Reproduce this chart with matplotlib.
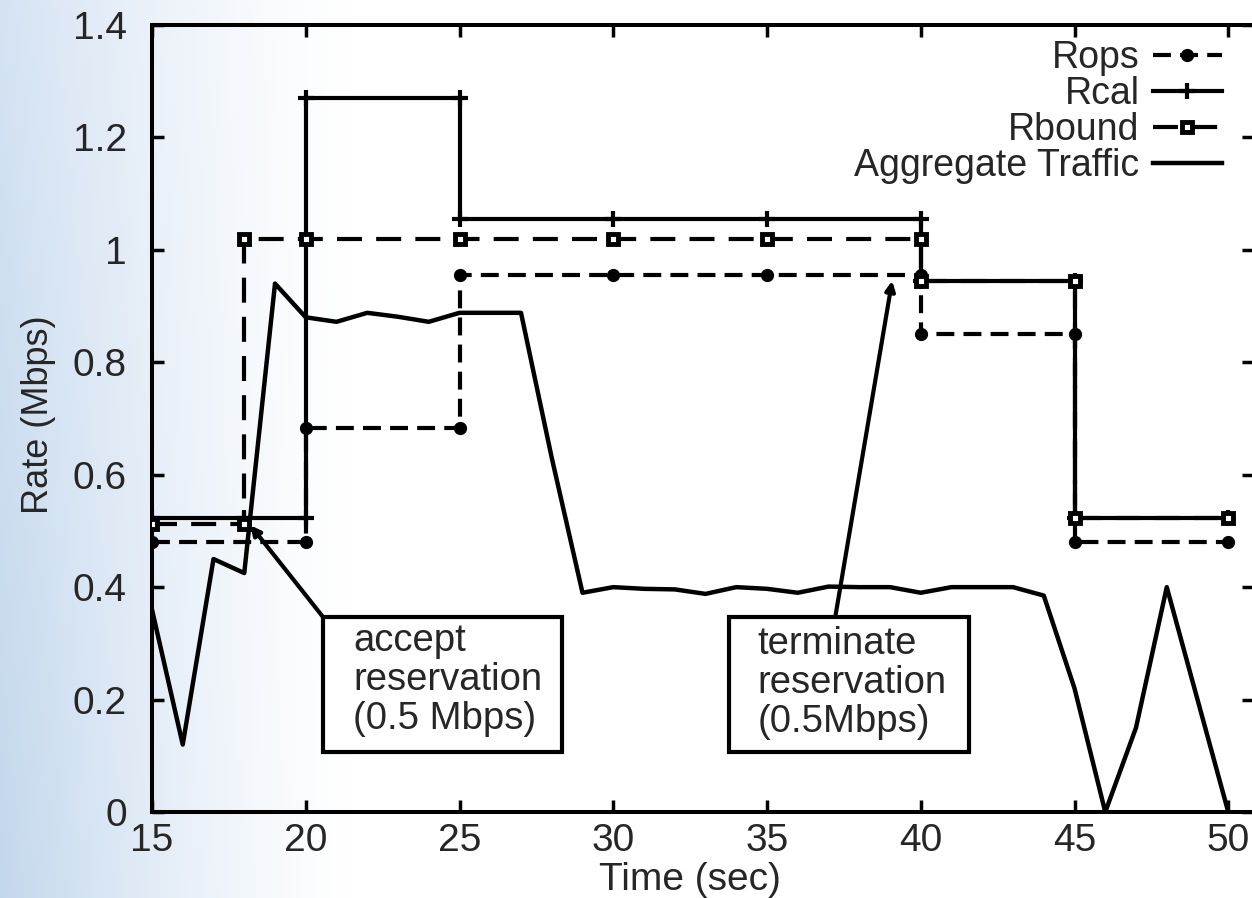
import numpy as np
import matplotlib
matplotlib.use("Agg")
import matplotlib.pyplot as plt
from matplotlib.patches import Rectangle
from matplotlib.ticker import FormatStrFormatter

plt.rcParams['font.family'] = ['Liberation Sans', 'DejaVu Sans']

# ---------------- data ----------------
rops_t = [15, 20, 20, 25, 25, 30, 35, 40, 40, 45, 45, 50]
rops_v = [0.48, 0.48, 0.683, 0.683, 0.955, 0.955, 0.955, 0.955, 0.85, 0.85, 0.48, 0.48]

rcal_t = [15, 18, 20, 20, 25, 25, 30, 35, 40, 40, 45, 45, 50]
rcal_v = [0.523, 0.523, 0.523, 1.27, 1.27, 1.055, 1.055, 1.055, 1.055, 0.945, 0.945, 0.523, 0.523]

rbound_t = [15, 18, 18, 20, 25, 30, 35, 40, 40, 45, 45, 50]
rbound_v = [0.513, 0.513, 1.02, 1.02, 1.02, 1.02, 1.02, 1.02, 0.945, 0.945, 0.523, 0.523]

agg_t = list(range(15, 51))
agg_v = [0.36, 0.12, 0.45, 0.425, 0.94, 0.88, 0.872, 0.888, 0.881, 0.872,
         0.888, 0.888, 0.888, 0.63, 0.39, 0.40, 0.397, 0.396, 0.388, 0.40,
         0.397, 0.39, 0.401, 0.40, 0.40, 0.39, 0.40, 0.40, 0.40, 0.385,
         0.22, 0.0, 0.15, 0.40, 0.20, 0.0]

series_labels = ["Rops", "Rcal", "Rbound", "Aggregate Traffic"]
xticks = [15, 20, 25, 30, 35, 40, 45, 50]
yticks = [0, 0.2, 0.4, 0.6, 0.8, 1.0, 1.2, 1.4]
x_label = "Time (sec)"
y_label = "Rate (Mbps)"
accept_text = "accept\nreservation\n(0.5 Mbps)"
terminate_text = "terminate\nreservation\n(0.5Mbps)"

# ---------------- figure ----------------
W, H = 1252, 898
fig = plt.figure(figsize=(W / 100, H / 100), dpi=100)

# slide-like background gradient on the left
bg = fig.add_axes([0, 0, 1, 1], zorder=-10)
xx = np.linspace(0, 1, 400)[None, :]
yy = np.linspace(0, 1, 300)[:, None]
t = np.clip(xx * W / 350.0, 0, 1)
amt = (1 - t) ** 1.3 * (0.28 + 0.12 * yy)
blue = np.array([105, 155, 210]) / 255.0
img = 1 - amt[..., None] * (1 - blue[None, None, :])
bg.imshow(img, aspect='auto', extent=[0, 1, 0, 1], origin='upper')
bg.set_axis_off()

left_px, right_px, top_px, bot_px = 152, 1254.4, 25, 812
ax = fig.add_axes([left_px / W, (H - bot_px) / H, (right_px - left_px) / W, (bot_px - top_px) / H])
ax.patch.set_alpha(0)

lw = 3.0
ax.plot(rops_t, rops_v, color='black', lw=lw, linestyle=(0, (4.3, 2.2)),
        marker='o', ms=8.5, mfc='black', mec='black', label=series_labels[0], zorder=4)
ax.plot(rcal_t, rcal_v, color='black', lw=lw, linestyle='-',
        marker='+', ms=12, mew=3, label=series_labels[1], zorder=3)
ax.plot(rbound_t, rbound_v, color='black', lw=lw, linestyle=(0, (6.0, 3.4)),
        marker='s', ms=7, mfc='white', mec='black', mew=3.5, label=series_labels[2], zorder=5)
ax.plot(agg_t, agg_v, color='black', lw=3.2, linestyle='-', label=series_labels[3], zorder=2)

ax.set_xlim(15, 50.85)
ax.set_ylim(0, 1.4)
ax.set_xticks(xticks)
ax.set_yticks(yticks)
ax.yaxis.set_major_formatter(FormatStrFormatter('%g'))
txt_color = '#262626'
ax.tick_params(direction='in', top=True, right=True, length=8.5, width=2.5,
               labelsize=28, colors='black', labelcolor=txt_color)
ax.tick_params(axis='y', pad=18)
ax.tick_params(axis='x', pad=8)
for s in ax.spines.values():
    s.set_linewidth(2.9)

ax.set_xlabel(x_label, fontsize=28, color=txt_color)
ax.xaxis.set_label_coords((690 - left_px) / (right_px - left_px), -(862 - bot_px) / (bot_px - top_px))
ax.set_ylabel(y_label, fontsize=26, color=txt_color)
ax.yaxis.set_label_coords((56 - left_px) / (right_px - left_px), (bot_px - 415) / (bot_px - top_px))

# annotation boxes
box_lw = 3.0
ax.add_patch(Rectangle((20.56, 0.107), 28.33 - 20.56, 0.347 - 0.107, fill=True,
                       facecolor='white', edgecolor='black', lw=box_lw, zorder=6))
ax.add_patch(Rectangle((33.76, 0.107), 41.57 - 33.76, 0.347 - 0.107, fill=True,
                       facecolor='white', edgecolor='black', lw=box_lw, zorder=6))
ax.text(21.55, 0.235, accept_text, fontsize=27.5, color=txt_color, ha='left', va='center',
        linespacing=1.1, zorder=7)
ax.text(34.7, 0.229, terminate_text, fontsize=27.5, color=txt_color, ha='left', va='center',
        linespacing=1.1, zorder=7)

ax.annotate('', xy=(18.2, 0.51), xytext=(20.56, 0.347),
            arrowprops=dict(arrowstyle='-|>', lw=3.0, color='black', mutation_scale=14,
                            shrinkA=0, shrinkB=0), zorder=6)
ax.annotate('', xy=(39.07, 0.945), xytext=(37.22, 0.347),
            arrowprops=dict(arrowstyle='-|>', lw=3.0, color='black', mutation_scale=14,
                            shrinkA=0, shrinkB=0), zorder=6)

leg = ax.legend(loc='upper right', bbox_to_anchor=(1222 / W, (H - 40) / H),
                bbox_transform=fig.transFigure, frameon=False, markerfirst=False,
                fontsize=27, handlelength=1.85, handletextpad=0.35, labelspacing=0.0,
                borderpad=0, borderaxespad=0, numpoints=1)
for tx in leg.get_texts():
    tx.set_color(txt_color)

fig.savefig('out.png', dpi=100)
